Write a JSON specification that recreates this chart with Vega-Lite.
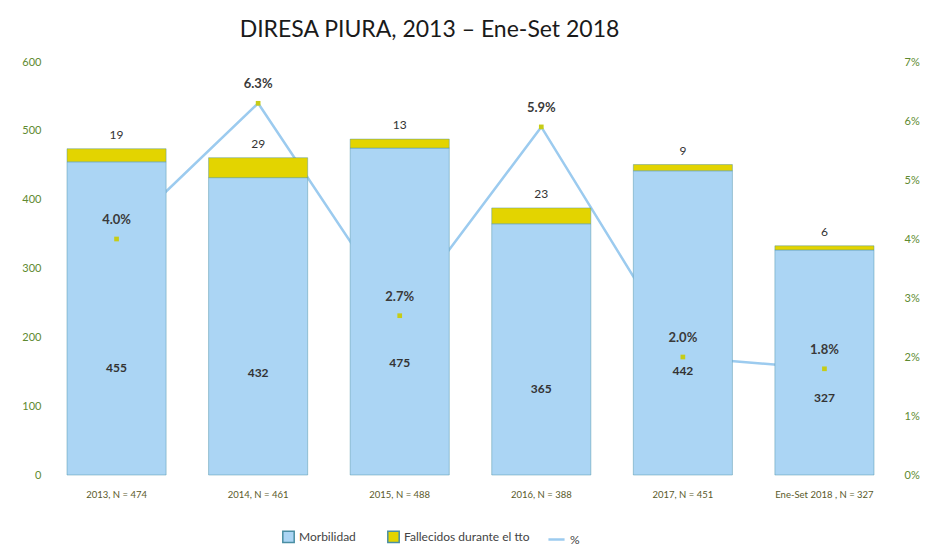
{
  "$schema": "https://vega.github.io/schema/vega-lite/v6.json",
  "autosize": {"type": "none"},
  "width": 807,
  "height": 413,
  "padding": {"left": 67, "top": 62, "right": 59, "bottom": 76},
  "background": "white",
  "config": {
    "font": "Lato",
    "view": {"stroke": null},
    "axis": {"grid": false, "ticks": false, "domain": false}
  },
  "title": {
    "text": "DIRESA PIURA, 2013 – Ene-Set 2018",
    "fontSize": 23,
    "fontWeight": "normal",
    "font": "Lato",
    "color": "#1a1a1a",
    "dx": -41,
    "offset": 14
  },
  "data": {
    "values": [
      {"year": "2013, N = 474", "Morbilidad": 455, "Fallecidos durante el tto": 19, "pct": 0.040},
      {"year": "2014, N = 461", "Morbilidad": 432, "Fallecidos durante el tto": 29, "pct": 0.063},
      {"year": "2015, N = 488", "Morbilidad": 475, "Fallecidos durante el tto": 13, "pct": 0.027},
      {"year": "2016, N = 388", "Morbilidad": 365, "Fallecidos durante el tto": 23, "pct": 0.059},
      {"year": "2017, N = 451", "Morbilidad": 442, "Fallecidos durante el tto": 9, "pct": 0.020},
      {"year": "Ene-Set 2018 , N = 327", "Morbilidad": 327, "Fallecidos durante el tto": 6, "pct": 0.018}
    ]
  },
  "encoding": {
    "x": {
      "field": "year", "type": "nominal", "sort": null, "title": null,
      "scale": {"paddingInner": 0.3, "paddingOuter": 0},
      "axis": {"labelAngle": 0, "labelFontSize": 9.5, "labelColor": "#5a5a2a", "labelPadding": 14}
    }
  },
  "layer": [
    {
      "layer": [
        {
          "mark": {"type": "line", "strokeWidth": 2.5},
          "encoding": {
            "y": {"field": "pct", "type": "quantitative", "scale": {"domain": [0, 0.07], "nice": false}, "axis": null},
            "stroke": {
              "datum": "%",
              "scale": {"domain": ["%"], "range": ["#9ccbef"]},
              "legend": {
                "title": null, "orient": "none", "legendX": 480, "legendY": 468,
                "symbolType": "stroke", "symbolSize": 260, "symbolStrokeWidth": 2.5,
                "labelFontSize": 12, "labelColor": "#444"
              }
            }
          }
        }
      ]
    },
    {
      "transform": [
        {"fold": ["Morbilidad", "Fallecidos durante el tto"], "as": ["key", "value"]}
      ],
      "layer": [
        {
          "mark": {"type": "bar", "stroke": "#4a8ea3", "strokeWidth": 1, "strokeOpacity": 0.45},
          "encoding": {
            "y": {
              "field": "value", "type": "quantitative", "stack": "zero",
              "scale": {"domain": [0, 600], "nice": false},
              "axis": {"title": null, "values": [0, 100, 200, 300, 400, 500, 600], "labelColor": "#5e8a30", "labelFontSize": 11, "offset": 20, "labelPadding": 6}
            },
            "order": {"field": "key", "sort": "descending"},
            "color": {
              "field": "key", "type": "nominal",
              "scale": {"domain": ["Morbilidad", "Fallecidos durante el tto"], "range": ["#abd5f4", "#e3d400"]},
              "legend": {
                "title": null, "orient": "none", "direction": "horizontal",
                "legendX": 215, "legendY": 468,
                "symbolType": "square", "symbolSize": 130,
                "labelFontSize": 12, "labelColor": "#444", "columnPadding": 28
              }
            }
          }
        },
        {
          "transform": [
            {"joinaggregate": [{"op": "sum", "field": "value", "as": "total"}], "groupby": ["year"]},
            {"filter": "datum.key === 'Fallecidos durante el tto'"}
          ],
          "mark": {"type": "text", "dy": -14, "fontSize": 12, "color": "#333"},
          "encoding": {
            "y": {"field": "total", "type": "quantitative"},
            "text": {"field": "value", "type": "quantitative"}
          }
        }
      ]
    },
    {
      "layer": [
        {
          "mark": {"type": "text", "fontSize": 12, "fontWeight": "bold", "color": "#333"},
          "encoding": {
            "y": {"field": "Morbilidad", "type": "quantitative", "scale": {"domain": [0, 1750], "nice": false}, "axis": null},
            "text": {"field": "Morbilidad", "type": "quantitative"}
          }
        }
      ]
    },
    {
      "layer": [
        {
          "mark": {"type": "point", "shape": "square", "filled": true, "size": 22, "color": "#c6cc16", "opacity": 1},
          "encoding": {
            "y": {
              "field": "pct", "type": "quantitative", "scale": {"domain": [0, 0.07], "nice": false},
              "axis": {"orient": "right", "title": null, "format": ".0%", "values": [0, 0.01, 0.02, 0.03, 0.04, 0.05, 0.06, 0.07], "labelColor": "#5e8a30", "labelFontSize": 11, "offset": 26, "labelPadding": 4}
            }
          }
        },
        {
          "mark": {"type": "text", "dy": -19, "fontSize": 13, "fontWeight": "bold", "color": "#3a3a3a"},
          "encoding": {
            "y": {"field": "pct", "type": "quantitative"},
            "text": {"field": "pct", "type": "quantitative", "format": ".1%"}
          }
        }
      ]
    }
  ],
  "resolve": {"scale": {"y": "independent"}}
}
